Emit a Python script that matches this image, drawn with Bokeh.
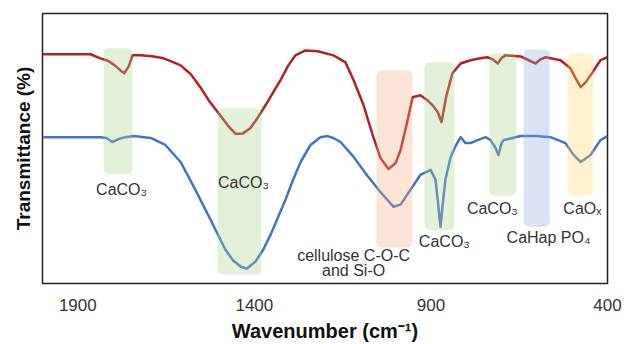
from bokeh.plotting import figure
from bokeh.models import Range1d, FixedTicker, ColumnDataSource
from bokeh.embed import file_html
from bokeh.resources import INLINE
from bokeh.core.properties import value

# ---------------- data ----------------
red_wn = [2000, 1930, 1864, 1836, 1815, 1795, 1780, 1768, 1756, 1745, 1722, 1690,
          1657, 1630, 1609, 1580, 1553, 1530, 1504, 1475, 1453, 1432, 1411, 1390,
          1368, 1346, 1326, 1305, 1284, 1255, 1221, 1176, 1142, 1119, 1091, 1065,
          1043, 1020, 1000, 986, 966, 952, 930, 910, 896, 881, 870, 856, 839, 816,
          788, 760, 740, 725, 711, 700, 689, 646, 620, 604, 590, 575, 533, 505,
          490, 476, 462, 448, 420, 400]
red_t = [84.9, 84.9, 84.9, 83.4, 82.5, 80.8, 79.0, 77.9, 80.4, 84.5, 84.5, 84.2,
         83.4, 82.0, 80.8, 77.5, 72.7, 68.0, 63.5, 58.5, 55.4, 55.6, 57.6, 61.5,
         66.1, 71.0, 75.3, 80.5, 84.5, 86.3, 86.0, 84.5, 81.9, 75.3, 66.1, 55.0,
         46.5, 42.4, 44.6, 49.4, 60.5, 69.0, 69.7, 67.9, 66.1, 63.5, 59.8, 69.7,
         77.9, 81.5, 82.7, 83.4, 83.8, 83.0, 81.5, 83.5, 84.5, 84.1, 82.5, 81.5,
         83.0, 83.8, 82.7, 79.7, 76.0, 72.7, 74.5, 77.1, 82.7, 83.8]

blue_wn = [2000, 1930, 1836, 1819, 1802, 1785, 1765, 1742, 1694, 1652, 1609, 1567,
           1524, 1482, 1460, 1439, 1422, 1397, 1375, 1354, 1333, 1312, 1290, 1269,
           1241, 1213, 1193, 1175, 1156, 1119, 1080, 1043, 1006, 986, 958, 930,
           901, 887, 880, 873, 866, 859, 845, 830, 816, 802, 788, 768, 745, 731,
           717, 709, 700, 694, 646, 600, 561, 519, 496, 476, 448, 420, 400]
blue_t = [54.2, 54.2, 54.2, 53.9, 52.4, 53.5, 54.2, 54.6, 53.9, 51.3, 45.0, 34.7,
          23.6, 12.5, 8.5, 6.3, 5.5, 8.1, 12.5, 18.1, 24.5, 31.0, 38.5, 45.0,
          51.3, 54.2, 54.6, 53.8, 52.4, 46.9, 39.9, 33.9, 28.4, 29.2, 34.7, 40.2,
          42.1, 38.4, 30.0, 21.0, 30.0, 38.4, 46.5, 51.0, 54.2, 52.0, 52.0, 53.1,
          54.2, 53.1, 50.2, 47.6, 52.0, 53.1, 54.6, 54.6, 54.2, 52.0, 47.6, 45.0,
          47.6, 53.1, 54.6]

band_left = [1827, 1504, 1054, 918, 734, 638, 513]
band_right = [1745, 1380, 952, 833, 658, 564, 440]
band_top = [87.1, 64.9, 79.0, 81.9, 85.2, 86.7, 85.2]
band_bottom = [40.6, 3.3, 13.3, 19.6, 32.5, 21.0, 32.5]
band_colors = ["#a9d18e", "#a9d18e", "#f4b183", "#a9d18e", "#a9d18e", "#8faadc", "#ffd966"]

label_text = ["CaCO₃", "CaCO₃", "cellulose C-O-C", "and Si-O", "CaCO₃", "CaCO₃",
              "CaHap PO₄", "CaOₓ"]
label_x = [1776, 1431, 1119, 1119, 862, 726, 567, 471]
label_y = [34.7, 37.3, 10.3, 4.8, 15.5, 27.7, 17.0, 27.7]

x_ticks = [1900, 1400, 900, 400]

# ---------------- figure ----------------
p = figure(width=624, height=344, output_backend="svg", toolbar_location=None,
           x_range=Range1d(2000, 400), y_range=Range1d(0, 100),
           min_border_left=42, min_border_right=17, min_border_top=13,
           min_border_bottom=60, background_fill_color="white")

p.grid.visible = False
p.outline_line_color = "#222222"
p.outline_line_width = 1.5

FONT = "Liberation Sans"

p.xaxis.ticker = FixedTicker(ticks=x_ticks)
p.xaxis.axis_line_color = None
p.xaxis.major_tick_line_color = None
p.xaxis.minor_tick_line_color = None
p.xaxis.major_tick_out = 0
p.xaxis.major_label_standoff = 15
p.xaxis.major_label_text_font = FONT
p.xaxis.major_label_text_font_size = "17px"
p.xaxis.major_label_text_color = "#333333"
p.xaxis.axis_label = "Wavenumber (cm⁻¹)"
p.xaxis.axis_label_text_font = FONT
p.xaxis.axis_label_text_font_style = "bold"
p.xaxis.axis_label_text_font_size = "20px"
p.xaxis.axis_label_text_color = "#111111"
p.xaxis.axis_label_standoff = 6

p.yaxis.ticker = FixedTicker(ticks=[])
p.yaxis.axis_line_color = None
p.yaxis.major_tick_line_color = None
p.yaxis.minor_tick_line_color = None
p.yaxis.major_tick_out = 0
p.yaxis.axis_label = "Transmittance (%)"
p.yaxis.axis_label_text_font = FONT
p.yaxis.axis_label_text_font_style = "bold"
p.yaxis.axis_label_text_font_size = "19px"
p.yaxis.axis_label_text_color = "#111111"
p.yaxis.axis_label_standoff = 9

p.line(red_wn, red_t, line_color="#b22222", line_width=2.5, line_join="round")
p.line(blue_wn, blue_t, line_color="#4472c4", line_width=2.5, line_join="round")

bands = ColumnDataSource(dict(left=band_left, right=band_right, top=band_top,
                              bottom=band_bottom, color=band_colors))
p.quad(left="left", right="right", top="top", bottom="bottom", source=bands,
       fill_color="color", fill_alpha=0.33, line_color=None, border_radius=5)

labels = ColumnDataSource(dict(x=label_x, y=label_y, text=label_text))
p.text(x="x", y="y", text="text", source=labels, text_align="center",
       text_baseline="middle", text_font=value(FONT), text_font_size="16px",
       text_color="#333333")

open("out.html", "w").write(file_html(p, INLINE))
